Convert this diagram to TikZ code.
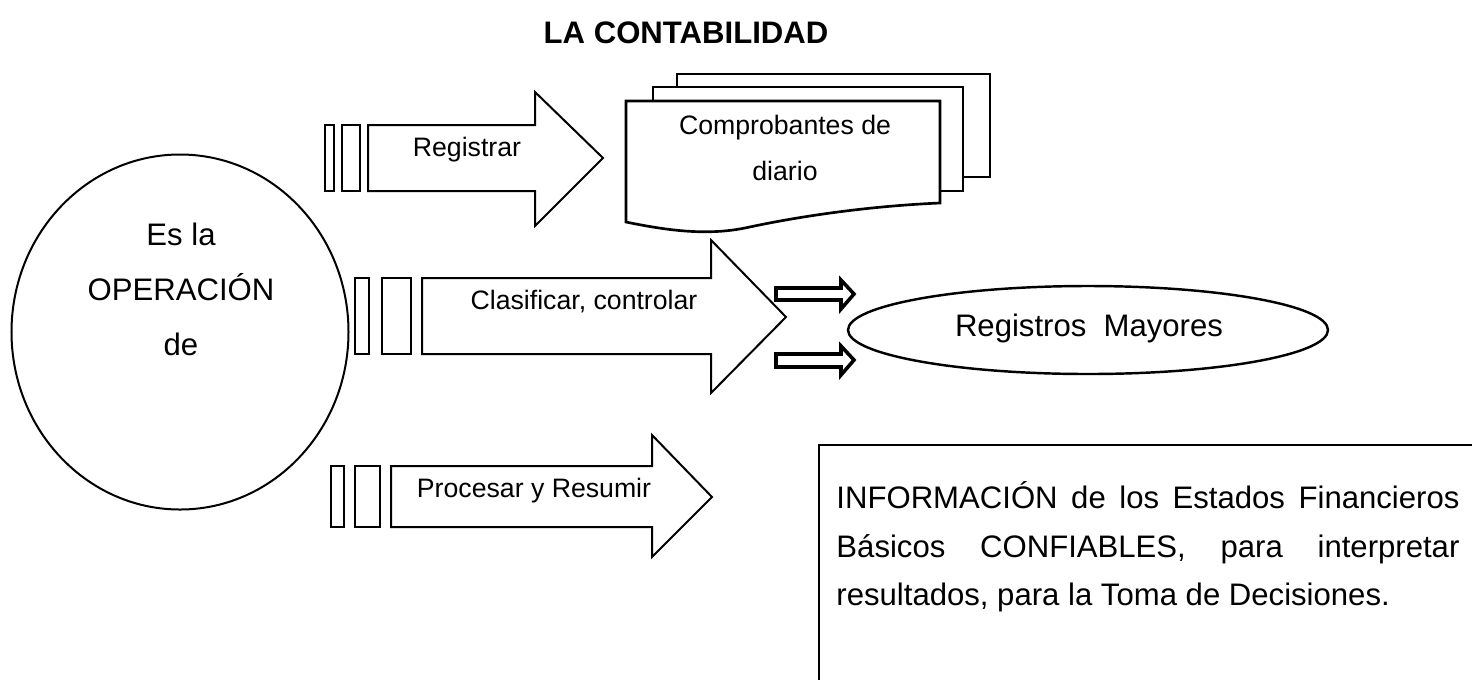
\documentclass[tikz,border=0pt]{standalone}
\usepackage{fontspec}
\setmainfont{Liberation Sans}
\usetikzlibrary{shapes.geometric}
\begin{document}
\begin{tikzpicture}[x=0.45pt,y=-0.45pt,
  outl/.style={draw=black, line width=0.9pt, fill=white, line join=miter},
  docsh/.style={draw=black, line width=1.2pt, fill=white},
  smallarr/.style={draw=black, line width=1.6pt, fill=white, line join=miter},
  lbl/.style={font=\fontsize{12}{14}\selectfont, anchor=base, inner sep=0pt},
  big/.style={font=\fontsize{14}{17}\selectfont, anchor=base, inner sep=0pt},
  boxtxt/.style={font=\fontsize{14}{17}\selectfont, anchor=base west, inner sep=0pt}]
\useasboundingbox (0,0) rectangle (1472,679);

% title
\node[big, font=\fontsize{14}{17}\selectfont\bfseries] (title) at (686,43) {LA CONTABILIDAD};

% circle
\node[draw, line width=0.9pt, ellipse, inner sep=0pt, minimum width=151.65pt, minimum height=159.75pt] (op) at (180,332) {};
\node[big] (esla) at (181,245) {Es la};
\node[big] (oper) at (181,300) {OPERACIÓN};
\node[big] (de) at (181,355) {de};

% Registrar arrow
\draw[outl] (325,125) rectangle (334,191);
\draw[outl] (342,125) rectangle (360,191);
\draw[outl] (368,125) -- (535,125) -- (535,92) -- (603,158) -- (535,226) -- (535,191) -- (368,191) -- cycle;
\node[lbl] (reg) at (467,156) {Registrar};

% documents
\draw[docsh] (677,74) rectangle (990,177);
\draw[docsh] (653,87) rectangle (963,191);
\draw[docsh] (626,101) -- (940,101) -- (940,203) .. controls (870,206) and (800,216) .. (745,228) .. controls (705,236) and (665,230) .. (626,222) -- cycle;
\node[lbl] (comp1) at (785,134) {Comprobantes de};
\node[lbl] (comp2) at (785,180) {diario};

% Clasificar arrow
\draw[outl] (355,278) rectangle (369,354);
\draw[outl] (382,278) rectangle (411,354);
\draw[outl] (422,278) -- (711,278) -- (711,240) -- (786,317) -- (711,393) -- (711,354) -- (422,354) -- cycle;
\node[lbl] (clas) at (584,309) {Clasificar, controlar};

% small arrows
\draw[smallarr] (776,288) -- (841,288) -- (841,280) -- (854,294) -- (841,309) -- (841,300) -- (776,300) -- cycle;
\draw[smallarr] (776,354) -- (841,354) -- (841,346) -- (854,360) -- (841,375) -- (841,367) -- (776,367) -- cycle;

% Registros Mayores
\node[draw, ellipse, line width=1.1pt, inner sep=0pt, minimum width=216pt, minimum height=39.6pt] (may) at (1088,330) {};
\node[big] (maytxt) at (1089,336) {Registros\ \ Mayores};

% Procesar arrow
\draw[outl] (331,466) rectangle (344,527);
\draw[outl] (355,466) rectangle (380,527);
\draw[outl] (391,466) -- (652,466) -- (652,435) -- (712,497) -- (652,557) -- (652,527) -- (391,527) -- cycle;
\node[lbl] (proc) at (534,497) {Procesar y Resumir};

% information box
\draw[line width=0.9pt] (819,445) rectangle (1490,700);
\node[boxtxt] (inf1) at (836,508) {\makebox[280.35pt][s]{INFORMACIÓN de los Estados Financieros}};
\node[boxtxt] (inf2) at (836,557) {\makebox[280.35pt][s]{Básicos CONFIABLES, para interpretar}};
\node[boxtxt] (inf3) at (836,605) {resultados, para la Toma de Decisiones.};
\end{tikzpicture}
\end{document}
